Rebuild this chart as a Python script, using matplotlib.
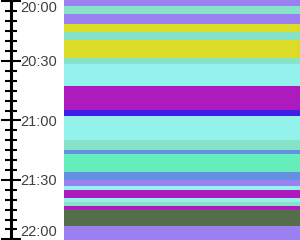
import matplotlib
matplotlib.use("Agg")
import matplotlib.pyplot as plt
from matplotlib.ticker import FixedLocator, FuncFormatter

# band boundaries, minutes after 20:00
edges = [-1, 2.3, 6.3, 11.3, 15.2, 19.4, 28.3, 31.5, 42.6, 54.7, 57.7, 69.8,
         74.9, 76.9, 85.8, 90.0, 92.9, 95.1, 98.9, 100.9, 103.0, 104.8, 113.1, 121]
kinds = ["purple", "teal", "purple", "yellow", "teal", "yellow", "teal", "cyan",
         "magenta", "blue", "cyan", "teal", "cornflower", "green", "cornflower",
         "purple", "cyan", "magenta", "cyan", "teal", "magenta", "darkgreen", "purple"]
palette = {
    "purple": "#9b80f2",
    "teal": "#86e3c8",
    "yellow": "#dcdb28",
    "cyan": "#94f2ec",
    "magenta": "#ad1abd",
    "blue": "#3e1ee8",
    "cornflower": "#6590e1",
    "green": "#66edbc",
    "darkgreen": "#546e4a",
}
major_ticks = [0, 30, 60, 90, 120]
minor_ticks = [m for m in range(0, 125, 5) if m not in major_ticks]


def fmt(m, pos):
    return "%d:%02d" % (20 + int(m) // 60, int(m) % 60)


fig = plt.figure(figsize=(3, 2.4), dpi=100)
ax = fig.add_axes([64 / 300, 0, 236 / 300, 1])

for i, k in enumerate(kinds):
    ax.bar(0, edges[i + 1] - edges[i], bottom=edges[i], width=1,
           align="edge", color=palette[k], linewidth=0)

ax.set_xlim(0, 1)
ax.set_ylim(120.3, -0.75)
ax.set_xticks([])

for s in ["top", "bottom", "left"]:
    ax.spines[s].set_visible(False)
ax.spines["right"].set_position(("axes", -53.5 / 236))
ax.spines["right"].set_linewidth(2.2)

ax.yaxis.set_ticks_position("right")
ax.yaxis.set_major_locator(FixedLocator(major_ticks))
ax.yaxis.set_minor_locator(FixedLocator(minor_ticks))
ax.yaxis.set_major_formatter(FuncFormatter(fmt))
ax.tick_params(axis="y", which="major", direction="inout", length=15,
               width=1.5, color="black", pad=-0.5, labelsize=10.5,
               labelcolor="#404040")
ax.tick_params(axis="y", which="minor", direction="inout", length=9,
               width=1.5, color="black")
for lab in ax.get_yticklabels():
    lab.set_fontfamily("Liberation Sans")
labels = ax.yaxis.get_ticklabels()
labels[0].set_va("top")
labels[-1].set_va("bottom")

fig.savefig("out.png", dpi=100)
